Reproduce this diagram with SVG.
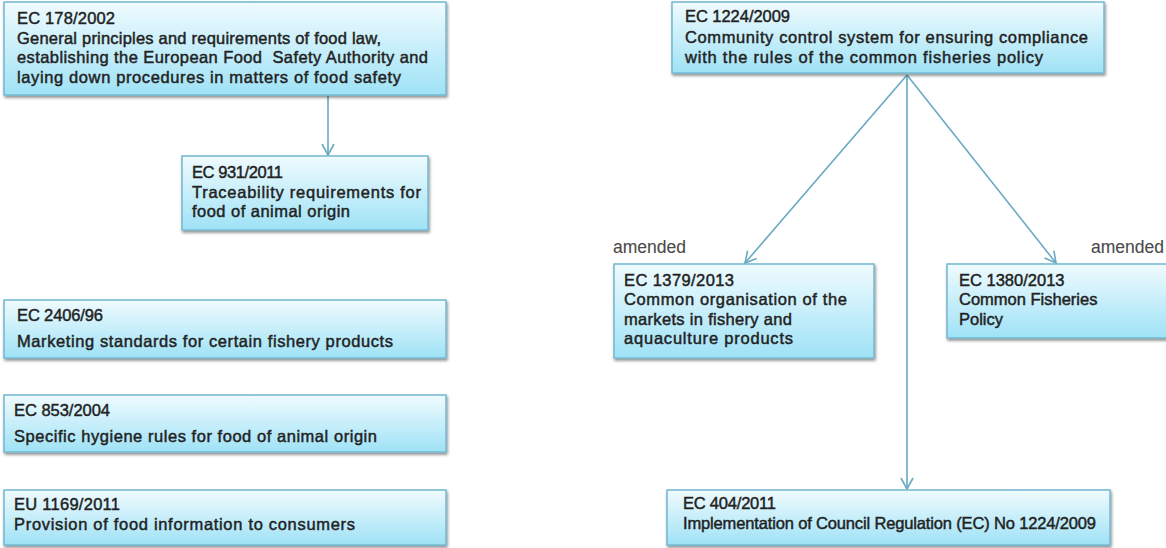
<svg xmlns="http://www.w3.org/2000/svg" width="1166" height="548" viewBox="0 0 1166 548">
<defs>
<linearGradient id="g" x1="0" y1="0" x2="0" y2="1">
<stop offset="0" stop-color="#f0fbfe"/>
<stop offset="1" stop-color="#9fe2f6"/>
</linearGradient>
<filter id="sh" x="-5%" y="-10%" width="110%" height="130%">
<feGaussianBlur in="SourceAlpha" stdDeviation="1.5"/>
<feOffset dx="1" dy="2"/>
<feComponentTransfer><feFuncA type="linear" slope="0.45"/></feComponentTransfer>
<feMerge><feMergeNode/><feMergeNode in="SourceGraphic"/></feMerge>
</filter>
<marker id="ah" markerWidth="14" markerHeight="14" refX="12" refY="7" orient="auto" markerUnits="userSpaceOnUse">
<path d="M1,1 L12,7 L1,13" fill="none" stroke="#6aa9c2" stroke-width="1.6"/>
</marker>
</defs>
<style>
.box{fill:url(#g);stroke:#72b8d0;stroke-width:1.5;filter:url(#sh)}
text{font-family:"Liberation Sans",Arial,sans-serif;font-size:16.5px;fill:#222;stroke:#222;stroke-width:0.45}
.lbl{font-size:17.5px;stroke-width:0.1;fill:#4a4a4a;stroke:#4a4a4a}
.con{fill:none;stroke:#6aa9c2;stroke-width:1.6}
</style>
<rect width="1166" height="548" fill="#ffffff"/>
<g id="connectors">
<line class="con" x1="328" y1="95" x2="328" y2="155" marker-end="url(#ah)"/>
<line class="con" x1="907" y1="75" x2="745" y2="263" marker-end="url(#ah)"/>
<line class="con" x1="907" y1="75" x2="1056" y2="263" marker-end="url(#ah)"/>
<line class="con" x1="907" y1="75" x2="907" y2="489" marker-end="url(#ah)"/>
</g>
<g id="n178">
<rect class="box" x="4" y="2" width="442" height="93"/>
<text x="17" y="24" textLength="98" lengthAdjust="spacing">EC 178/2002</text>
<text x="17" y="44" textLength="364" lengthAdjust="spacing">General principles and requirements of food law,</text>
<text x="17" y="63" textLength="411" lengthAdjust="spacing" xml:space="preserve">establishing the European Food  Safety Authority and</text>
<text x="17" y="83" textLength="384" lengthAdjust="spacing">laying down procedures in matters of food safety</text>
</g>
<g id="n931">
<rect class="box" x="182" y="156" width="246" height="74"/>
<text x="192" y="178" textLength="91" lengthAdjust="spacing">EC 931/2011</text>
<text x="192" y="198" textLength="229" lengthAdjust="spacing">Traceability requirements for</text>
<text x="192" y="217" textLength="158" lengthAdjust="spacing">food of animal origin</text>
</g>
<g id="n2406">
<rect class="box" x="4" y="300" width="442" height="58"/>
<text x="17" y="321" textLength="86" lengthAdjust="spacing">EC 2406/96</text>
<text x="17" y="347" textLength="376" lengthAdjust="spacing">Marketing standards for certain fishery products</text>
</g>
<g id="n853">
<rect class="box" x="4" y="395" width="442" height="57"/>
<text x="14" y="416" textLength="96" lengthAdjust="spacing">EC 853/2004</text>
<text x="14" y="442" textLength="363" lengthAdjust="spacing">Specific hygiene rules for food of animal origin</text>
</g>
<g id="n1169">
<rect class="box" x="4" y="490" width="442" height="55"/>
<text x="14" y="510" textLength="106" lengthAdjust="spacing">EU 1169/2011</text>
<text x="14" y="530" textLength="341" lengthAdjust="spacing">Provision of food information to consumers</text>
</g>
<g id="n1224">
<rect class="box" x="672" y="2" width="432" height="71"/>
<text x="685" y="22" textLength="105" lengthAdjust="spacing">EC 1224/2009</text>
<text x="685" y="43" textLength="403" lengthAdjust="spacing">Community control system for ensuring compliance</text>
<text x="685" y="63" textLength="358" lengthAdjust="spacing">with the rules of the common fisheries policy</text>
</g>
<g id="n1379">
<rect class="box" x="614" y="264" width="260" height="94"/>
<text x="624" y="286" textLength="110" lengthAdjust="spacing">EC 1379/2013</text>
<text x="624" y="305" textLength="223" lengthAdjust="spacing">Common organisation of the</text>
<text x="624" y="325" textLength="168" lengthAdjust="spacing">markets in fishery and</text>
<text x="624" y="344" textLength="169" lengthAdjust="spacing">aquaculture products</text>
</g>
<g id="n1380">
<rect class="box" x="947" y="264" width="222" height="74"/>
<text x="959" y="286">EC 1380/2013</text>
<text x="959" y="305">Common Fisheries</text>
<text x="959" y="325">Policy</text>
</g>
<g id="n404">
<rect class="box" x="667" y="490" width="443" height="55"/>
<text x="683" y="509" textLength="93" lengthAdjust="spacing">EC 404/2011</text>
<text x="683" y="529" textLength="413" lengthAdjust="spacing">Implementation of Council Regulation (EC) No 1224/2009</text>
</g>
<g id="labels">
<text class="lbl" x="613" y="253">amended</text>
<text class="lbl" x="1164" y="253" text-anchor="end">amended</text>
</g>
</svg>
